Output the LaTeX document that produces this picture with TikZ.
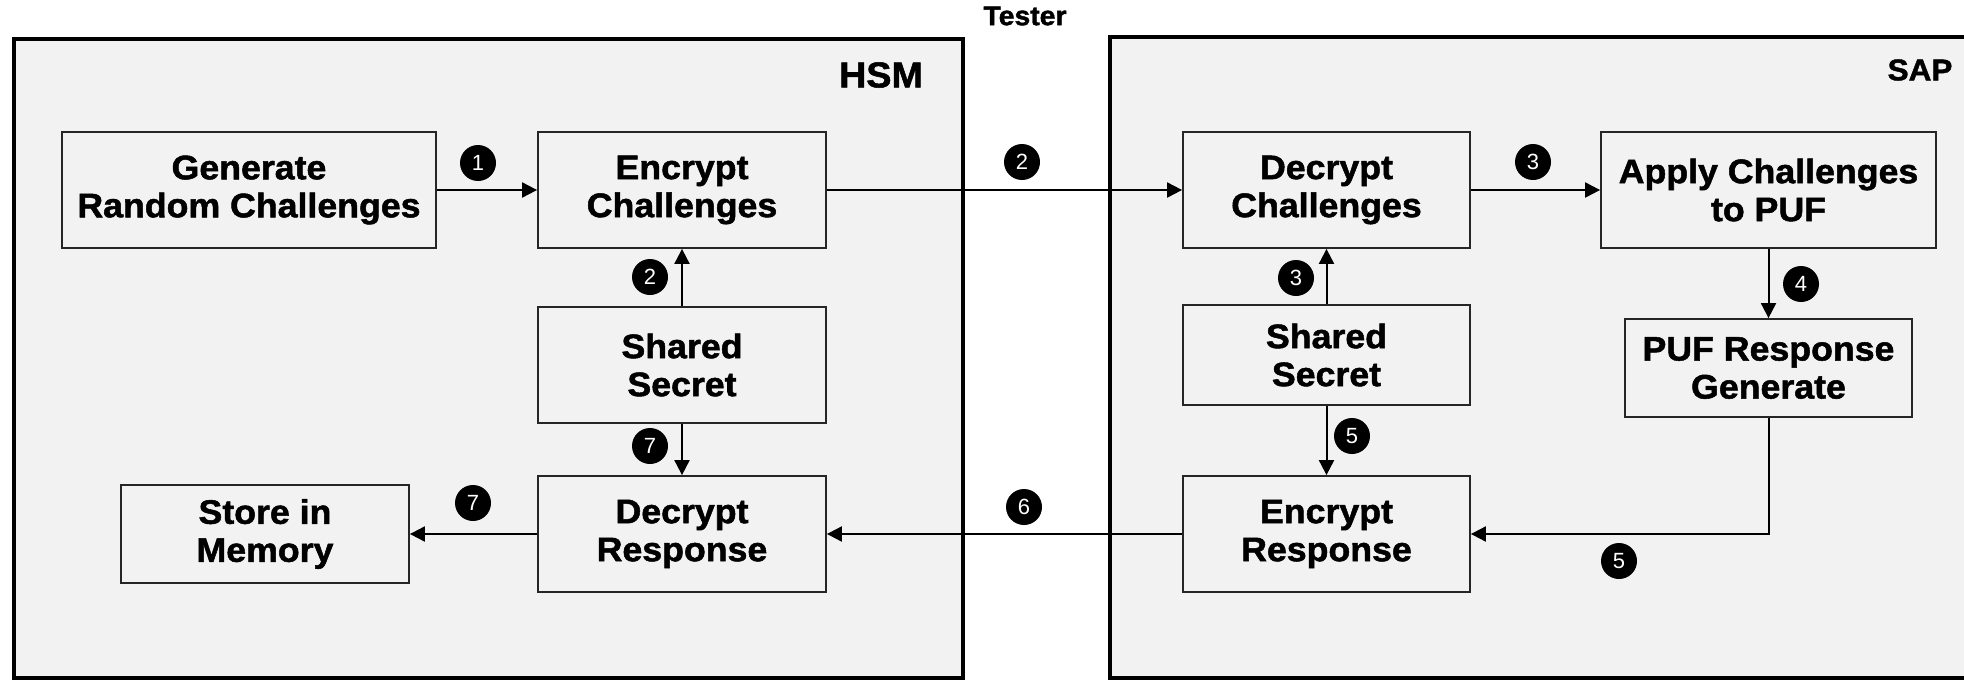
\documentclass[tikz,border=0pt]{standalone}
\usepackage{fontspec}
\setmainfont{Liberation Sans}[BoldFeatures={FakeBold=1.5,FakeStretch=1.05}]
\usetikzlibrary{arrows.meta}
\definecolor{panelfill}{HTML}{F2F2F2}
\definecolor{boxline}{HTML}{262626}
\tikzset{
  panel/.style={draw=black, line width=1.6pt, fill=panelfill},
  stepbox/.style={draw=boxline, line width=0.9pt, fill=panelfill, align=center,
    inner sep=2pt, font=\fontsize{17}{19}\selectfont\bfseries},
  badge/.style={circle, fill=black, text=white, minimum size=18pt, inner sep=0pt,
    font=\fontsize{11}{11}\selectfont},
  flow/.style={draw=black, line width=1pt, -{Triangle[length=7.5pt,width=7.5pt]}},
  title/.style={font=\bfseries, inner sep=0pt}
}
\begin{document}
\begin{tikzpicture}[x=0.5pt, y=-0.5pt]
  \clip (0,0) rectangle (1964,680);
  \fill[white] (0,0) rectangle (1964,680);

  % enclosing panels
  \draw[panel] (14,39) rectangle (963,678);
  \draw[panel] (1110,37) rectangle (1990,678);
  \node[title, font=\fontsize{18}{18}\selectfont\bfseries] (hsm) at (881,75) {HSM};
  \node[title, font=\fontsize{15}{15}\selectfont\bfseries] (sap) at (1920,70) {SAP};
  \node[title, font=\fontsize{13.5}{13.5}\selectfont\bfseries] (tester) at (1025,16) {Tester};

  % HSM side
  \node[stepbox, minimum width=187pt, minimum height=58pt] (gen) at (249,190) {Generate\\Random Challenges};
  \node[stepbox, minimum width=144pt, minimum height=58pt] (encC) at (682,190) {Encrypt\\Challenges};
  \node[stepbox, minimum width=144pt, minimum height=58pt] (ssH) at (682,365) {Shared\\Secret};
  \node[stepbox, minimum width=144pt, minimum height=58pt] (decR) at (682,534) {Decrypt\\Response};
  \node[stepbox, minimum width=144pt, minimum height=49pt] (store) at (265,534) {Store in\\Memory};

  % SAP side
  \node[stepbox, minimum width=143.5pt, minimum height=58pt] (decC) at (1326.5,190) {Decrypt\\Challenges};
  \node[stepbox, minimum width=167.5pt, minimum height=58pt] (apply) at (1768.5,190) {Apply Challenges\\to PUF};
  \node[stepbox, minimum width=143.5pt, minimum height=49pt] (puf) at (1768.5,368) {PUF Response\\Generate};
  \node[stepbox, minimum width=143.5pt, minimum height=50pt] (ssS) at (1326.5,355) {Shared\\Secret};
  \node[stepbox, minimum width=143.5pt, minimum height=58pt] (encR) at (1326.5,534) {Encrypt\\Response};

  % connectors
  \draw[flow] (gen) -- (encC);
  \draw[flow] (encC) -- (decC);
  \draw[flow] (ssH) -- (encC);
  \draw[flow] (ssH) -- (decR);
  \draw[flow] (decR) -- (store);
  \draw[flow] (encR) -- (decR);
  \draw[flow] (decC) -- (apply);
  \draw[flow] (ssS) -- (decC);
  \draw[flow] (apply) -- (puf);
  \draw[flow] (ssS) -- (encR);
  \draw[flow] (puf.south) |- (encR.east);

  % step numbers
  \node[badge] (n1)  at (478,163)  {1};
  \node[badge] (n2a) at (650,277)  {2};
  \node[badge] (n2b) at (1022,162) {2};
  \node[badge] (n3a) at (1533,162) {3};
  \node[badge] (n3b) at (1296,278) {3};
  \node[badge] (n4)  at (1801,284) {4};
  \node[badge] (n5a) at (1352,436) {5};
  \node[badge] (n5b) at (1619,561) {5};
  \node[badge] (n6)  at (1024,507) {6};
  \node[badge] (n7a) at (650,446)  {7};
  \node[badge] (n7b) at (473,503)  {7};
\end{tikzpicture}
\end{document}
